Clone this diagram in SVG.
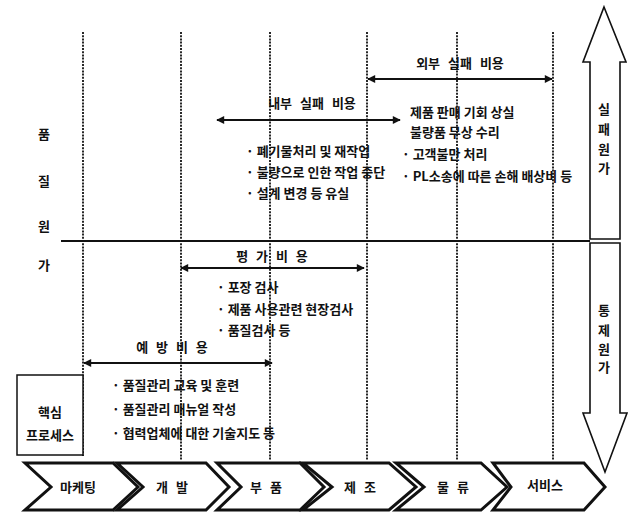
<svg xmlns="http://www.w3.org/2000/svg" width="635" height="517" viewBox="0 0 635 517">
<style>
text{font-family:"Noto Sans CJK KR","Noto Sans",sans-serif;font-size:13px;fill:#111;font-weight:bold}
.c{text-anchor:middle}
.w{word-spacing:5px}
.dot{stroke:#111;stroke-width:1.8;stroke-dasharray:2 1.2;fill:none}
.ln{stroke:#111;stroke-width:1.8;fill:none}
.chev{fill:#fff;stroke:#111;stroke-width:3;stroke-linejoin:miter}
.big{fill:#fff;stroke:#111;stroke-width:1.6}
.box{fill:#fff;stroke:#111;stroke-width:1.5}
</style>
<defs>
<marker id="ah" viewBox="0 0 10 10" refX="9" refY="5" markerWidth="10" markerHeight="8" markerUnits="userSpaceOnUse" orient="auto-start-reverse">
<path d="M0,0 L10,5 L0,10 Z" fill="#111"/>
</marker>
</defs>
<rect width="635" height="517" fill="#fff"/>

<g id="grid">
<line class="dot" x1="83" y1="32" x2="83" y2="456"/>
<line class="dot" x1="181" y1="32" x2="181" y2="460"/>
<line class="dot" x1="270" y1="32" x2="270" y2="460"/>
<line class="dot" x1="367" y1="32" x2="367" y2="460"/>
<line class="dot" x1="457" y1="32" x2="457" y2="460"/>
<line class="dot" x1="553" y1="32" x2="553" y2="460"/>
<line class="ln" x1="61" y1="241" x2="590" y2="241"/>
</g>

<g id="axis-label">
<text class="c" x="44" y="139">품</text>
<text class="c" x="44" y="186">질</text>
<text class="c" x="44" y="231">원</text>
<text class="c" x="44" y="270">가</text>
</g>

<g id="failure-arrow">
<polygon class="big" points="604,7 626,62 620,62 620,239 590,239 590,62 583,62"/>
<text class="c" x="604" y="114">실</text>
<text class="c" x="604" y="134">패</text>
<text class="c" x="604" y="154">원</text>
<text class="c" x="604" y="173">가</text>
</g>

<g id="control-arrow">
<polygon class="big" points="590,243 620,243 620,413 627,413 605,472 583,413 590,413"/>
<text class="c" x="604" y="315">통</text>
<text class="c" x="604" y="335">제</text>
<text class="c" x="604" y="354">원</text>
<text class="c" x="604" y="372">가</text>
</g>

<g id="connectors">
<line class="ln" x1="368" y1="79" x2="552" y2="79" marker-start="url(#ah)" marker-end="url(#ah)"/>
<line class="ln" x1="217" y1="120" x2="400" y2="120" marker-start="url(#ah)" marker-end="url(#ah)"/>
<line class="ln" x1="181" y1="268" x2="364" y2="268" marker-start="url(#ah)" marker-end="url(#ah)"/>
<line class="ln" x1="84" y1="363" x2="272" y2="363" marker-start="url(#ah)" marker-end="url(#ah)"/>
</g>

<g id="external-failure">
<text class="c w" x="460" y="68">외부 실패 비용</text>
<text x="410" y="117">제품 판매 기회 상실</text>
<text x="410" y="137">불량품 무상 수리</text>
<text x="402" y="159">· 고객불만 처리</text>
<text x="402" y="181">· PL소송에 따른 손해 배상비 등</text>
</g>

<g id="internal-failure">
<text class="c w" x="312" y="108">내부 실패 비용</text>
<text x="246" y="156">· 폐기물처리 및 재작업</text>
<text x="246" y="177">· 불량으로 인한 작업 중단</text>
<text x="246" y="198">· 설계 변경 등 유실</text>
</g>

<g id="appraisal">
<text class="c w" x="272" y="261">평 가 비 용</text>
<text x="217" y="292">· 포장 검사</text>
<text x="217" y="314">· 제품 사용관련 현장검사</text>
<text x="217" y="335">· 품질검사 등</text>
</g>

<g id="prevention">
<text class="c w" x="172" y="352">예 방 비 용</text>
<text x="112" y="390">· 품질관리 교육 및 훈련</text>
<text x="112" y="414">· 품질관리 매뉴얼 작성</text>
<text x="112" y="438">· 협력업체에 대한 기술지도 등</text>
</g>

<g id="core-process">
<rect class="box" x="17" y="375" width="66" height="80"/>
<text class="c" x="50" y="417">핵심</text>
<text class="c" x="50" y="440">프로세스</text>
</g>

<g id="step-marketing">
<polygon class="chev" points="25,463 113,463 138,487 113,510 25,510 51,487"/>
<text class="c" x="78" y="492">마케팅</text>
</g>
<g id="step-development">
<polygon class="chev" points="117,463 206,463 229,487 206,510 117,510 143,487"/>
<text class="c w" x="172" y="492">개 발</text>
</g>
<g id="step-parts">
<polygon class="chev" points="217,463 300,463 324,487 300,510 217,510 241,487"/>
<text class="c w" x="266" y="492">부 품</text>
</g>
<g id="step-manufacturing">
<polygon class="chev" points="303,463 389,463 416,487 389,510 303,510 332,487"/>
<text class="c w" x="360" y="492">제 조</text>
</g>
<g id="step-logistics">
<polygon class="chev" points="396,463 481,463 507,487 481,510 396,510 424,487"/>
<text class="c w" x="453" y="492">물 류</text>
</g>
<g id="step-service">
<polygon class="chev" points="493,463 584,463 605,487 584,510 493,510 511,487"/>
<text class="c" x="545" y="490">서비스</text>
</g>
</svg>
